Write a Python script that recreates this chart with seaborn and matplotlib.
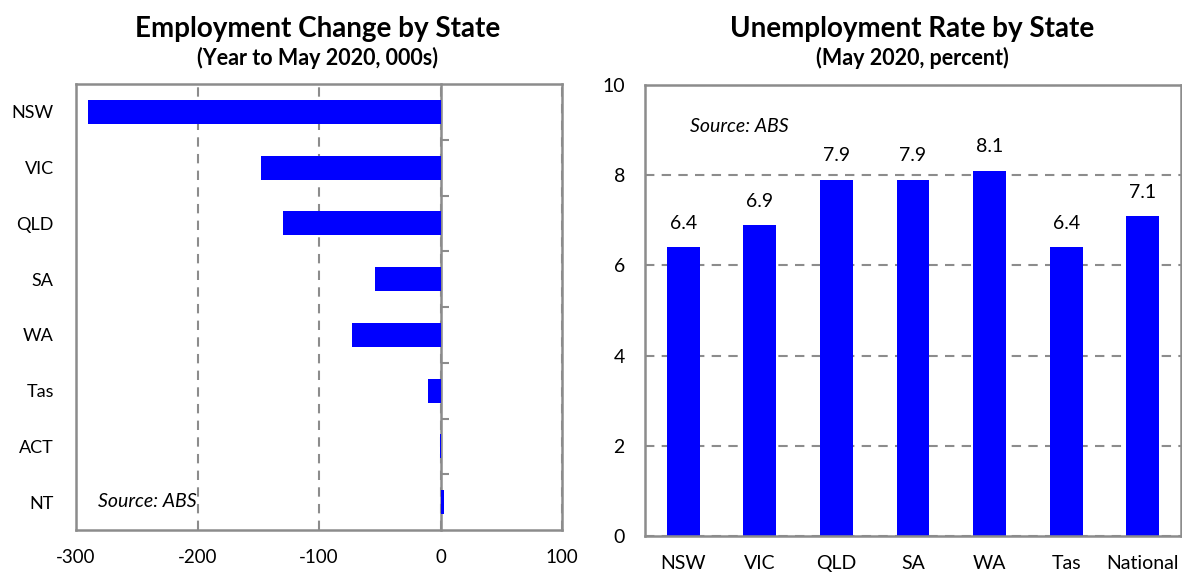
import numpy as np
import pandas as pd
import seaborn as sns
import matplotlib.pyplot as plt

# employment change, year to May 2020 (000s)
emp_states = ['NSW', 'VIC', 'QLD', 'SA', 'WA', 'Tas', 'ACT', 'NT']
emp_change = [-290, -148, -130, -54, -73, -10, -0.4, 2.5]

# unemployment rate, May 2020 (%)
ur_states = ['NSW', 'VIC', 'QLD', 'SA', 'WA', 'Tas', 'National']
ur_rate = [6.4, 6.9, 7.9, 7.9, 8.1, 6.4, 7.1]

sns.set_style('white')
plt.rcParams['font.family'] = ['Lato', 'DejaVu Sans']
plt.rcParams['axes.unicode_minus'] = False
plt.rcParams['text.color'] = 'black'
plt.rcParams['xtick.color'] = 'black'
plt.rcParams['ytick.color'] = 'black'

GREY = '#8c8c8c'
BLUE = '#0000ff'

df_emp = pd.DataFrame({'State': emp_states, 'Change': emp_change})
df_ur = pd.DataFrame({'State': ur_states, 'Rate': ur_rate})

fig = plt.figure(figsize=(11.82, 5.72), dpi=100)
ax1 = fig.add_axes([0.0643, 0.0734, 0.4112, 0.7797])
ax2 = fig.add_axes([0.5457, 0.0629, 0.4535, 0.7885])

# ---- left: employment change
sns.barplot(x='Change', y='State', data=df_emp, ax=ax1, color=BLUE,
            saturation=1, width=0.43, orient='h', linewidth=0)
ax1.set_xlim(-300, 100)
ax1.set_xticks([-300, -200, -100, 0, 100])
ax1.set_xlabel('')
ax1.set_ylabel('')
ax1.grid(axis='x', color=GREY, linestyle=(0, (4.5, 3.5)), linewidth=1.5)
ax1.set_axisbelow(True)
ax1.tick_params(axis='x', length=0, labelsize=13.5, labelcolor='black', pad=14)
ax1.tick_params(axis='y', length=0, labelsize=13, labelcolor='black', pad=16)
for s in ax1.spines.values():
    s.set_color(GREY)
    s.set_linewidth(1.8)

# zero line with the category separator ticks
zero = ax1.secondary_yaxis(0, transform=ax1.transData)
zero.set_alignment('right')
zero.set_yticks(np.arange(0.5, len(emp_states) - 1, 1))
zero.set_yticklabels([])
zero.tick_params(direction='out', length=6, width=1.5, color=GREY)
zero.spines['right'].set_color(GREY)
zero.spines['right'].set_linewidth(1.8)

ax1.text(0.045, 0.063, 'Source: ABS', transform=ax1.transAxes, style='italic',
         fontsize=14, va='center')
fig.text(0.2685, 0.950, 'Employment Change by State', ha='center', va='center',
         fontsize=20, fontweight='bold')
fig.text(0.2685, 0.898, '(Year to May 2020, 000s)', ha='center', va='center',
         fontsize=15.5, fontweight='bold')

# ---- right: unemployment rate
sns.barplot(x='State', y='Rate', data=df_ur, ax=ax2, color=BLUE,
            saturation=1, width=0.43, linewidth=0)
ax2.set_ylim(0, 10)
ax2.set_xlim(-0.5, len(ur_states) - 0.5)
ax2.set_yticks([0, 2, 4, 6, 8, 10])
ax2.set_xlabel('')
ax2.set_ylabel('')
ax2.grid(axis='y', color=GREY, linestyle=(0, (4.5, 3.5)), linewidth=1.5)
ax2.set_axisbelow(True)
ax2.set_xticks(np.arange(0.5, len(ur_states) - 1, 1), minor=True)
ax2.tick_params(axis='both', which='major', length=0, labelsize=14,
                labelcolor='black')
ax2.tick_params(axis='x', which='minor', direction='in', length=6,
                width=1.5, color=GREY)
ax2.tick_params(axis='y', pad=14.5)
ax2.tick_params(axis='x', pad=14)
for s in ax2.spines.values():
    s.set_color(GREY)
    s.set_linewidth(1.8)

for c in ax2.containers:
    ax2.bar_label(c, labels=[f'{v:.1f}' for v in ur_rate], padding=11,
                  fontsize=14)

ax2.text(0.084, 0.907, 'Source: ABS', transform=ax2.transAxes, style='italic',
         fontsize=14, va='center')
fig.text(0.7715, 0.950, 'Unemployment Rate by State', ha='center', va='center',
         fontsize=20, fontweight='bold')
fig.text(0.7715, 0.898, '(May 2020, percent)', ha='center', va='center',
         fontsize=15.5, fontweight='bold')

fig.savefig('out.png', dpi=100)
